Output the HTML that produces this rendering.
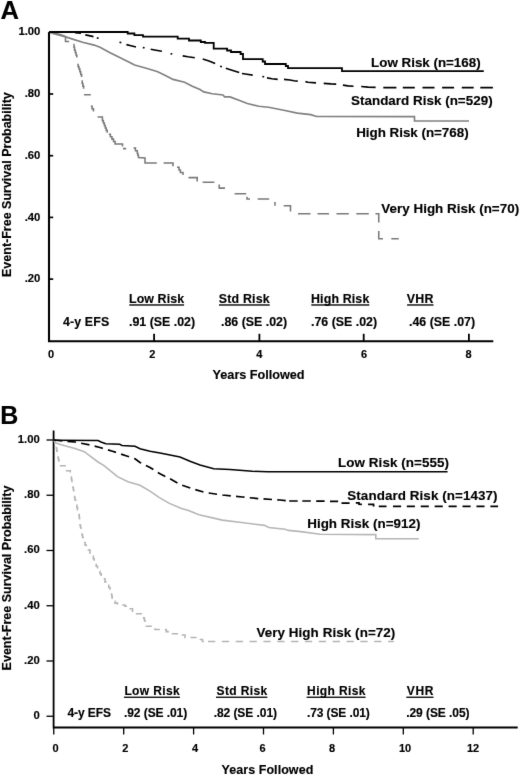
<!DOCTYPE html>
<html><head><meta charset="utf-8"><title>Event-Free Survival</title>
<style>html,body{margin:0;padding:0;background:#fff;width:520px;height:775px;overflow:hidden}svg{display:block}text{font-family:"Liberation Sans",sans-serif;font-weight:bold;stroke:#000;stroke-width:0.15px}</style>
</head><body>
<svg width="520" height="775" viewBox="0 0 520 775" font-family="Liberation Sans, sans-serif" font-weight="bold" fill="#000" stroke-linejoin="miter">
<defs><filter id="soft" x="0" y="0" width="520" height="775" filterUnits="userSpaceOnUse" color-interpolation-filters="sRGB"><feConvolveMatrix order="3" kernelMatrix="0.0072 0.0847 0.0072 0.0847 1 0.0847 0.0072 0.0847 0.0072" edgeMode="duplicate"/></filter></defs>
<g filter="url(#soft)">
<rect width="520" height="775" fill="#fff"/>
<text x="0.6" y="19.4" font-size="25.6" >A</text>
<text x="40.4" y="35.2" font-size="11.3" text-anchor="end">1.00</text>
<text x="40.4" y="97.2" font-size="11.3" text-anchor="end">.80</text>
<text x="40.4" y="158.9" font-size="11.3" text-anchor="end">.60</text>
<text x="40.4" y="220.6" font-size="11.3" text-anchor="end">.40</text>
<text x="40.4" y="282.3" font-size="11.3" text-anchor="end">.20</text>
<path d="M49,32 V341.2 H493.3" fill="none" stroke="#000" stroke-width="2.1"/>
<path d="M49,94 H53.2" stroke="#000" stroke-width="1.7"/>
<path d="M49,155.7 H53.2" stroke="#000" stroke-width="1.7"/>
<path d="M49,217.4 H53.2" stroke="#000" stroke-width="1.7"/>
<path d="M49,279.1 H53.2" stroke="#000" stroke-width="1.7"/>
<path d="M154.1,341 V333.8" stroke="#000" stroke-width="1.8"/>
<path d="M259.4,341 V333.8" stroke="#000" stroke-width="1.8"/>
<path d="M363.7,341 V333.8" stroke="#000" stroke-width="1.8"/>
<path d="M468.9,341 V333.8" stroke="#000" stroke-width="1.8"/>
<text x="51" y="358.2" font-size="11" text-anchor="middle">0</text>
<text x="152.2" y="358.2" font-size="11" text-anchor="middle">2</text>
<text x="259.4" y="358.2" font-size="11" text-anchor="middle">4</text>
<text x="364" y="358.2" font-size="11" text-anchor="middle">6</text>
<text x="468.5" y="358.2" font-size="11" text-anchor="middle">8</text>
<text x="212.6" y="378.8" font-size="12.7" textLength="92" lengthAdjust="spacing" >Years Followed</text>
<text transform="translate(10.9,277) rotate(-90)" x="0" y="0" font-size="12.5">Event-Free Survival Probability</text>
<path d="M49,32 L55,33.3 L61,34.8 L65.5,36.5 L65.5,41.5 L69.2,41.5 M73.5,44.4 L74,44.4 L74,47.2 L74.5,47.2 L74.5,50 L75.27,50 L75.27,52.47 L76.03,52.47 L76.03,54.93 L76.8,54.93 L76.8,57.4 M77.3,64.6 L78.15,64.6 L78.15,66.8 L79,66.8 L79,69 L79.87,69 L79.87,71.7 L80.73,71.7 L80.73,74.4 L81.6,74.4 L81.6,77.1 M81.5,81 L82.2,81 L82.2,83.57 L82.9,83.57 L82.9,86.13 L83.6,86.13 L83.6,88.7 M84,94.7 L90.8,94.7 M90.8,106.2 L92.15,106.2 L92.15,108.85 L93.5,108.85 L93.5,111.5 M97.6,116.9 L102.4,116.9 L102.4,120.6 L103.36,120.6 L103.36,123.04 L104.32,123.04 L104.32,125.48 L105.28,125.48 L105.28,127.92 L106.24,127.92 L106.24,130.36 L107.2,130.36 L107.2,132.8 M108.8,134.3 L110.38,134.3 L110.38,136.7 L111.95,136.7 L111.95,139.1 L113.52,139.1 L113.52,141.5 L115.1,141.5 L115.1,143.9 L122.5,143.9 L122.5,146.5 M123,148.6 L126.2,148.6 M133.6,148.1 L135.45,148.1 L135.45,150.75 L137.3,150.75 L137.3,153.4 L137.9,153.4 L137.9,155.5 L138.5,155.5 L138.5,157.6 L145,157.9 L145,163 L156.8,163 M163.6,163 L173,163 L173,166.3 M177,167.2 L179,167.2 L179,170 L180.4,170 L180.4,172.5 L183,172.5 L183,175 M188.5,177.6 L197.2,177.6 L197.2,181.6 M202.6,182.3 L214.4,182.3 M219.2,184.6 L219.2,188.1 L225,188.1 M234.6,193.7 L246.2,193.7 M247,196.8 L247,199 L250,199 M257.7,199 L269.2,199 M275,202 L275,205.8 M283.7,205.8 L290.5,205.8 L290.5,211.5 M298,213.75 L310.5,213.75 M317.5,213.75 L329,213.75 M336.5,213.75 L348.8,213.75 M356.3,213.75 L368.8,213.75 M375.5,213.75 L378.75,213.75 L378.75,222.5 M378.75,231 L378.75,238.75 L383,238.75 M391.3,238.75 L398.8,238.75" fill="none" stroke="#7a7a7a" stroke-width="1.55"/>
<polyline points="49,32 53.8,33.6 59.5,35.3 66.5,37.1 73.4,39.4 82.6,42.3 94.1,45.1 100,47.3 109.6,52.5 119.2,57.3 128.8,62.1 134.6,65 148,68.8 157.7,71.7 165.4,75.6 173,79.4 184.6,82.3 192.3,86.2 200,89.6 203.8,91.9 212.3,93.8 223,95 224.6,96.9 230,96.9 239.6,100.6 247.3,103.5 258.8,106.3 268.5,107.3 283.8,110.2 297.3,113.1 310.8,114.6 316.5,116.5 414.5,116.6 414.5,121 469,121" fill="none" stroke="#808080" stroke-width="1.65"/>
<path d="M75,32.6 L81,33.2 M85.3,34.9 L89,35.6 L93.5,36.6 M96.8,37.9 L98.6,38.3 M119.5,42.2 L121.3,42.6 M126.4,44.6 L131,45.8 L136,47 M142.8,47.6 L144.6,47.8 M150.7,49.2 L156,50.2 L161.9,51.2 M170.5,53.7 L172.3,54 M182.7,55.9 L188,56.8 L194.8,57.8 M202.7,59 L209,61 L215.2,63.4 M220.1,66.3 L221.9,66.7 M225.8,68.2 L232,70.2 L239.2,72.5 M242,73.5 L247,74.3 L252.7,75.1 M262.4,76.6 L264.2,76.8 M267,77.9 L272,78.7 L277.7,79.4 M284,79.4 L290,80 L294,80.8 L297.7,81.1 M305.4,81.6 L308,82.3 L316,82.9 M323.7,83.4 L331,83.9 L336.2,84.1 M342.9,85.1 L348,85.9 L353.5,86.2 M361.2,86.5 L368,87.1 L375.6,87.4 M383.3,87.6 L396.4,87.6 M402.8,87.6 L414.8,87.6 M422.5,87.6 L434.5,87.6 M442.1,87.6 L454.1,87.6 M461.8,87.6 L473.7,87.6 M480.3,87.6 L492.9,87.6" fill="none" stroke="#000" stroke-width="1.65"/>
<polyline points="49,32 127.7,32 127.7,33.5 134.4,33.5 134.4,35.2 143,35.2 143,36.7 177.7,36.7 177.7,38.6 189,38.6 189,40.5 200.8,40.5 200.8,42 205,42 205,42.9 213.7,42.9 213.7,48.7 227.1,48.7 227.1,50.5 231,50.5 231,52 240.6,52 240.6,54 243,54 243,59.2 262.7,59.2 262.7,61.5 265,61.5 265,64 285.8,64 285.8,66 288,66 288,68.1 342,68.1 342,71.1 483.8,71.1" fill="none" stroke="#000" stroke-width="1.8"/>
<text x="371.1" y="67" font-size="13.4" textLength="109.5" lengthAdjust="spacing" >Low Risk (n=168)</text>
<text x="351" y="104.8" font-size="13.4" textLength="141.6" lengthAdjust="spacing" >Standard Risk (n=529)</text>
<text x="356.2" y="137" font-size="13.4" textLength="112.4" lengthAdjust="spacing" >High Risk (n=768)</text>
<text x="381.3" y="212.5" font-size="13.4" textLength="137.8" lengthAdjust="spacing" >Very High Risk (n=70)</text>
<text x="62.9" y="325.5" font-size="12.4" textLength="46.3" lengthAdjust="spacing" >4-y EFS</text>
<text x="129" y="303" font-size="12.4" textLength="55.1" lengthAdjust="spacing" >Low Risk</text>
<rect x="129.3" y="304.3" width="54.800000000000004" height="1.35" fill="#000"/>
<text x="218.7" y="303" font-size="12.4" textLength="51" lengthAdjust="spacing" >Std Risk</text>
<rect x="219.0" y="304.3" width="50.7" height="1.35" fill="#000"/>
<text x="311" y="303" font-size="12.4" textLength="58.3" lengthAdjust="spacing" >High Risk</text>
<rect x="311.3" y="304.3" width="58.0" height="1.35" fill="#000"/>
<text x="406.8" y="303" font-size="12.4" textLength="26.7" lengthAdjust="spacing" >VHR</text>
<rect x="407.1" y="304.3" width="26.4" height="1.35" fill="#000"/>
<text x="129" y="325.5" font-size="12.4" >.91 (SE .02)</text>
<text x="221" y="325.5" font-size="12.4" >.86 (SE .02)</text>
<text x="311" y="325.5" font-size="12.4" >.76 (SE .02)</text>
<text x="409" y="325.5" font-size="12.4" >.46 (SE .07)</text>
<text x="0.3" y="424.2" font-size="25" >B</text>
<text x="39.8" y="443.1" font-size="11.3" text-anchor="end">1.00</text>
<text x="39.8" y="498.2" font-size="11.3" text-anchor="end">.80</text>
<text x="39.8" y="553.4" font-size="11.3" text-anchor="end">.60</text>
<text x="39.8" y="608.7" font-size="11.3" text-anchor="end">.40</text>
<text x="39.8" y="663.8" font-size="11.3" text-anchor="end">.20</text>
<text x="39.8" y="719.2" font-size="11.3" text-anchor="end">0</text>
<path d="M53.6,430.5 V727.5 H517.7" fill="none" stroke="#000" stroke-width="1.8"/>
<path d="M53.4,440 H46.5" stroke="#000" stroke-width="1.3"/>
<path d="M53.4,495.25 H46.5" stroke="#000" stroke-width="1.3"/>
<path d="M53.4,550.5 H46.5" stroke="#000" stroke-width="1.3"/>
<path d="M53.4,605.75 H46.5" stroke="#000" stroke-width="1.3"/>
<path d="M53.4,661 H46.5" stroke="#000" stroke-width="1.3"/>
<path d="M53.4,716.25 H46.5" stroke="#000" stroke-width="1.3"/>
<path d="M53.75,727.5 V734.5" stroke="#000" stroke-width="1.3"/>
<path d="M123.7,727.5 V734.5" stroke="#000" stroke-width="1.3"/>
<path d="M193.6,727.5 V734.5" stroke="#000" stroke-width="1.3"/>
<path d="M263.5,727.5 V734.5" stroke="#000" stroke-width="1.3"/>
<path d="M333.4,727.5 V734.5" stroke="#000" stroke-width="1.3"/>
<path d="M403.3,727.5 V734.5" stroke="#000" stroke-width="1.3"/>
<path d="M473.2,727.5 V734.5" stroke="#000" stroke-width="1.3"/>
<text x="55.5" y="752" font-size="11" text-anchor="middle">0</text>
<text x="125.3" y="752" font-size="11" text-anchor="middle">2</text>
<text x="195" y="752" font-size="11" text-anchor="middle">4</text>
<text x="262.5" y="752" font-size="11" text-anchor="middle">6</text>
<text x="332" y="752" font-size="11" text-anchor="middle">8</text>
<text x="405" y="752" font-size="11" text-anchor="middle">10</text>
<text x="473" y="752" font-size="11" text-anchor="middle">12</text>
<text x="221.5" y="773.5" font-size="12.5" textLength="91.8" lengthAdjust="spacing" >Years Followed</text>
<text transform="translate(11.3,670.4) rotate(-90)" x="0" y="0" font-size="12.5">Event-Free Survival Probability</text>
<polyline points="53.75,440 54.88,440 54.88,443 56,443 56,446 56.4,446 56.4,448.5 56.8,448.5 56.8,451 57.2,451 57.2,453.5 57.6,453.5 57.6,456 58.15,456 58.15,458.45 58.7,458.45 58.7,460.9 59.25,460.9 59.25,463.35 59.8,463.35 59.8,465.8 66.5,465.8 66.5,470.7 70.3,470.7 70.3,474 70.85,474 70.85,476.75 71.4,476.75 71.4,479.5 71.95,479.5 71.95,482.25 72.5,482.25 72.5,485 72.92,485 72.92,487.5 73.33,487.5 73.33,490 73.75,490 73.75,492.5 74.17,492.5 74.17,495 74.58,495 74.58,497.5 75,497.5 75,500 75.62,500 75.62,502.5 76.25,502.5 76.25,505 76.88,505 76.88,507.5 77.5,507.5 77.5,510 78.75,510 78.75,512.5 79,512.5 79,515 79.25,515 79.25,517.5 79.5,517.5 79.5,520 79.75,520 79.75,522.5 80,522.5 80,525 80.5,525 80.5,527.5 81,527.5 81,530 81.5,530 81.5,532.5 82,532.5 82,535 82.58,535 82.58,537.5 83.17,537.5 83.17,540 83.75,540 83.75,542.5 85,542.5 85,545 86.25,545 86.25,547.5 87.5,547.5 87.5,550 90,550 90,553.12 92.5,553.12 92.5,556.25 93.33,556.25 93.33,558.75 94.17,558.75 94.17,561.25 95,561.25 95,563.75 96.25,563.75 96.25,566.25 97.5,566.25 97.5,568.75 98.75,568.75 98.75,571.25 100,571.25 100,573.75 101.25,573.75 101.25,576.25 102.5,576.25 102.5,578.75 105,578.75 105,581.88 107.5,581.88 107.5,585 108.75,585 108.75,587.5 110,587.5 110,590 111.25,590 111.25,592.5 111.56,592.5 111.56,594.69 111.88,594.69 111.88,596.88 112.19,596.88 112.19,599.06 112.5,599.06 112.5,601.25 115,601.25 115,603.12 117.5,603.12 117.5,605 125,605 125,606.25 130,606.25 130,608.75 132.5,608.75 132.5,611.25 135,611.25 135,613.75 142.5,613.75 143.12,613.75 143.12,615.94 143.75,615.94 143.75,618.12 144.38,618.12 144.38,620.31 145,620.31 145,622.5 145.62,622.5 145.62,624.38 146.25,624.38 146.25,626.25 152.5,626.25 155,626.25 155,629.5 162.5,629.5 166.25,629.5 166.25,631.62 170,631.62 170,633.75 182.5,633.75 182.5,635 185,635 185,637.5 195,637.5 198.75,637.5 198.75,639.5 202.5,639.5 202.5,641.5 207.5,641.5" fill="none" stroke="#b4b4b4" stroke-width="1.6" stroke-dasharray="6.1,5.1" stroke-dashoffset="-9.45"/>
<path d="M208,641.5 L215.3,641.5 M221.85,641.5 L229.15,641.5 M235.7,641.5 L243,641.5 M249.55,641.5 L256.85,641.5 M263.4,641.5 L270.7,641.5 M277.25,641.5 L284.55,641.5 M291.1,641.5 L298.4,641.5 M304.95,641.5 L312.25,641.5 M318.8,641.5 L326.1,641.5 M332.65,641.5 L339.95,641.5 M346.5,641.5 L353.8,641.5 M360.35,641.5 L367.65,641.5 M374.2,641.5 L381.5,641.5 M388.05,641.5 L393.8,641.5" fill="none" stroke="#b4b4b4" stroke-width="1.6"/>
<polyline points="53.75,440.5 56,443 61.2,444.8 75,448.6 84.3,451.7 90.5,456.3 98,462 103.7,465.4 117.5,476.6 127.9,481.8 140,485.3 150.4,491.3 159,497.4 169.4,503.4 181.5,508.6 188.5,510.6 199,514.8 222.3,520.1 243.5,522.8 264.6,525.4 268.8,527.5 285,529.3 288.5,530.4 303,531.9 320,534.2 375.8,534.6 375.8,538.8 418.75,538.8" fill="none" stroke="#b6b6b6" stroke-width="1.6"/>
<polyline points="53.75,440 75,442 90,445 100,447.5 112.5,451.25 127.5,456.25 135,458.75 140,462.5 150,467.5 160,473.75 170,478.75 180,484.5 192.5,488.75 205,492.5 222.5,495 242.5,497 260,498.75 280,500 289.2,501" fill="none" stroke="#000" stroke-width="1.7" stroke-dasharray="8.5,5.3"/>
<path d="M289.2,501 L297.7,501 M302.3,501 L310.8,501 M316.2,501.1 L324.6,501.1 M330,501.3 L338.1,501.3 M341.5,503.2 L349.6,503.2 M355.8,502.9 L359,502.9 L359,504.3 L361.9,504.4 M368.1,504.3 L373.5,504.3 L373.5,505.6 L374.5,505.6 M378.8,506.3 L386.5,506.3 M393,506.3 L401.1,506.3 M406.8,506.3 L414.9,506.3 M420.73,506.3 L428.83,506.3 M434.66,506.3 L442.76,506.3 M448.59,506.3 L456.69,506.3 M462.52,506.3 L470.62,506.3 M476.45,506.3 L484.55,506.3 M490.38,506.3 L498.1,506.3" fill="none" stroke="#000" stroke-width="1.7"/>
<polyline points="53.75,440.3 98,440.5 101,442 105.8,443.8 119.7,444.3 122,445.5 135,446.3 140,448.75 150,451.25 160,453 170,455 180,457 190,461.25 200,465 213.75,468.75 230,469.5 252.5,471.25 267.5,471.75 447.6,471.75" fill="none" stroke="#000" stroke-width="1.5"/>
<text x="338.1" y="467.3" font-size="13.4" textLength="110.8" lengthAdjust="spacing" >Low Risk (n=555)</text>
<text x="347.3" y="500.4" font-size="13.4" textLength="150.2" lengthAdjust="spacing" >Standard Risk (n=1437)</text>
<text x="307.2" y="528.4" font-size="13.4" textLength="113.2" lengthAdjust="spacing" >High Risk (n=912)</text>
<text x="256.4" y="637.0" font-size="13.4" textLength="138.9" lengthAdjust="spacing" >Very High Risk (n=72)</text>
<text x="67.4" y="716.6" font-size="12" textLength="43.6" lengthAdjust="spacing" >4-y EFS</text>
<text x="124.4" y="694.8" font-size="12" textLength="55.4" lengthAdjust="spacing" >Low Risk</text>
<rect x="123.9" y="696.6" width="56.0" height="1.3" fill="#000"/>
<text x="216.5" y="694.8" font-size="12" textLength="50.8" lengthAdjust="spacing" >Std Risk</text>
<rect x="216.0" y="696.6" width="51.4" height="1.3" fill="#000"/>
<text x="307.1" y="694.8" font-size="12" textLength="58.4" lengthAdjust="spacing" >High Risk</text>
<rect x="306.6" y="696.6" width="59.0" height="1.3" fill="#000"/>
<text x="406.8" y="694.8" font-size="12" textLength="26.6" lengthAdjust="spacing" >VHR</text>
<rect x="406.3" y="696.6" width="27.200000000000003" height="1.3" fill="#000"/>
<text x="124" y="716.8" font-size="12" textLength="63.2" lengthAdjust="spacing" >.92 (SE .01)</text>
<text x="213.7" y="716.8" font-size="12" textLength="63.3" lengthAdjust="spacing" >.82 (SE .01)</text>
<text x="307" y="716.8" font-size="12" textLength="62.8" lengthAdjust="spacing" >.73 (SE .01)</text>
<text x="406.2" y="716.8" font-size="12" textLength="63.4" lengthAdjust="spacing" >.29 (SE .05)</text>
</g>
</svg>
</body></html>
